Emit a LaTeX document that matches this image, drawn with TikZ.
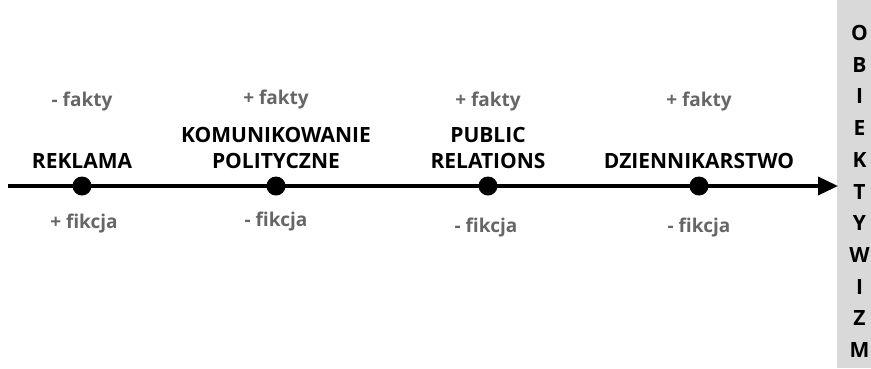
\documentclass[tikz,border=0pt]{standalone}
\usepackage{fontspec}
\setmainfont{Open Sans}
\usetikzlibrary{arrows.meta}
\definecolor{lblgray}{HTML}{666666}
\definecolor{boxgray}{HTML}{D9D9D9}
\begin{document}
\begin{tikzpicture}[x=1pt,y=-1pt,
  title/.style={font=\fontsize{21}{26}\selectfont\bfseries, text=black, align=center, inner sep=0pt},
  pm/.style={font=\fontsize{19}{21}\selectfont\bfseries, text=lblgray, inner sep=0pt},
  dotnode/.style={circle, fill=black, minimum size=19pt, inner sep=0pt},
  letter/.style={font=\fontsize{21}{23}\selectfont\bfseries, text=black, inner sep=0pt}]
\useasboundingbox (0,0) rectangle (871,368);
\fill[boxgray] (837,0) rectangle (871,368);
% axis
\coordinate (start) at (8,186);
\coordinate (tip) at (838,186);
\draw[line width=3.6pt, -{Triangle[length=20pt,width=18pt]}] (start) -- (tip);
% dots
\node[dotnode] (d1) at (82,186) {};
\node[dotnode] (d2) at (276,186) {};
\node[dotnode] (d3) at (488,186) {};
\node[dotnode] (d4) at (699,186) {};
% titles
\node[title, anchor=base] (t1) at (82,168) {REKLAMA};
\node[title, anchor=base] (t2) at (276,168) {KOMUNIKOWANIE\\POLITYCZNE};
\node[title, anchor=base] (t3) at (488,168) {PUBLIC\\RELATIONS};
\node[title, anchor=base] (t4) at (699,168) {DZIENNIKARSTWO};
% fakty
\node[pm, anchor=base] (f1) at (82,106) {- fakty};
\node[pm, anchor=base] (f2) at (276,104) {+ fakty};
\node[pm, anchor=base] (f3) at (488,106) {+ fakty};
\node[pm, anchor=base] (f4) at (699,106) {+ fakty};
% fikcja
\node[pm, anchor=base] (k1) at (84,228) {+ fikcja};
\node[pm, anchor=base] (k2) at (276,226) {- fikcja};
\node[pm, anchor=base] (k3) at (486,232) {- fikcja};
\node[pm, anchor=base] (k4) at (699,232) {- fikcja};
% vertical word
\foreach \l [count=\i] in {O,B,I,E,K,T,Y,W,I,Z,M}{
  \node[letter] (l\i) at (859.5,{33+(\i-1)*31.7}) {\l};
}
\end{tikzpicture}
\end{document}
